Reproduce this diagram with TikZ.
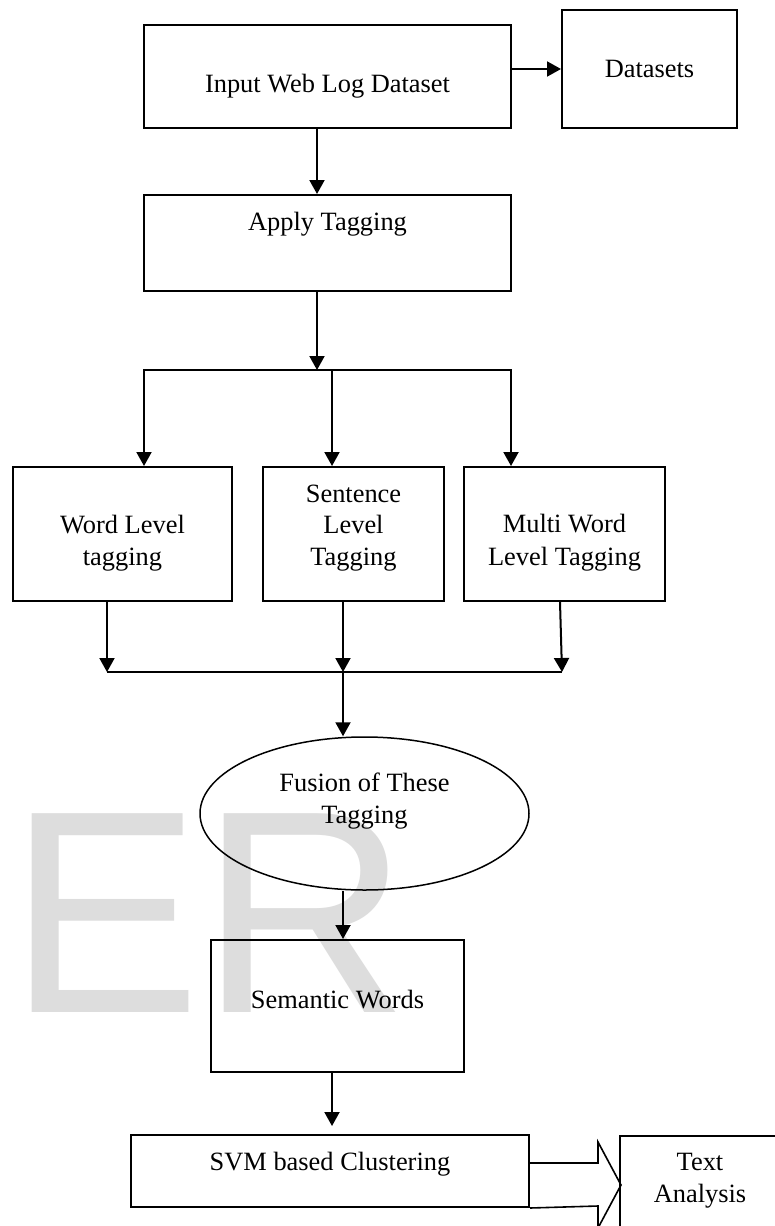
\documentclass[tikz,border=0pt]{standalone}
\usepackage{fontspec}
\setmainfont{Liberation Serif}
\newfontfamily\wmsans{Liberation Sans}
\usetikzlibrary{arrows.meta,shapes.geometric,fit}
\definecolor{wmgray}{HTML}{DDDDDD}
\tikzset{
  box/.style={draw, line width=2pt, inner sep=0pt},
  oval/.style={draw, ellipse, line width=1.5pt, inner sep=0pt},
  txt/.style={inner sep=0pt, anchor=base, font=\fontsize{26.4}{32}\selectfont},
  arr/.style={line width=2pt, -{Triangle[length=14pt,width=15pt]}},
  bar/.style={line width=1.6pt},
  barrow/.style={line width=1.6pt, line join=miter},
}
\begin{document}
\begin{tikzpicture}[x=1pt,y=-1pt]
\clip (0,0) rectangle (775,1226);
\useasboundingbox (0,0) rectangle (775,1226);
\fill[white] (0,0) rectangle (775,1226);

% watermark
\node[anchor=base west, inner sep=0pt, text=wmgray, font=\wmsans\fontsize{289}{289}\selectfont] (wm) at (8,1012) {ER};

% boxes
\node[box, fit={(144,25) (511,128)}] (in) {};
\node[box, fit={(562,10) (737,128)}] (ds) {};
\node[box, fit={(144,195) (511,291)}] (ap) {};
\node[box, fit={(13,467) (232,601)}] (wl) {};
\node[box, fit={(263,467) (444,601)}] (sl) {};
\node[box, fit={(464,467) (665,601)}] (ml) {};
\node[oval, minimum width=329pt, minimum height=153pt] (fu) at (364.5,813.5) {};
\node[box, fit={(211,940) (464,1072)}] (sw) {};
\node[box, fit={(131,1135) (529,1207)}] (svm) {};
\node[box, fit={(620,1136) (780,1260)}] (ta) {};

% texts
\node[txt] (tin) at (327.5,92) {Input Web Log Dataset};
\node[txt] (tds) at (649.5,77) {Datasets};
\node[txt] (tap) at (327.5,230) {Apply Tagging};
\node[txt] (twl1) at (122.5,533) {Word Level};
\node[txt] (twl2) at (122.5,565) {tagging};
\node[txt] (tsl1) at (353.5,502) {Sentence};
\node[txt] (tsl2) at (353.5,533) {Level};
\node[txt] (tsl3) at (353.5,565) {Tagging};
\node[txt] (tml1) at (564.5,532) {Multi Word};
\node[txt] (tml2) at (564.5,565) {Level Tagging};
\node[txt] (tfu1) at (364.5,791) {Fusion of These};
\node[txt] (tfu2) at (364.5,823) {Tagging};
\node[txt] (tsw) at (337.5,1008) {Semantic Words};
\node[txt] (tsvm) at (330,1170) {SVM based Clustering};
\node[txt] (tta1) at (700,1170) {Text};
\node[txt] (tta2) at (700,1202) {Analysis};

% helper coordinates
\coordinate (split) at (317,370);
\coordinate (b1) at (144,370);
\coordinate (b2) at (332,370);
\coordinate (b3) at (511,370);
\coordinate (c1) at (107,672);
\coordinate (c2) at (343,672);
\coordinate (c3) at (562,672);

% connectors
\draw[arr] ([xshift=-10.5pt]in.south) -- ([xshift=-10.5pt]ap.north);
\draw[arr] ([yshift=7.5pt]in.east) -- (ds.west);
\draw[arr] ([xshift=-10.5pt]ap.south) -- (split);
\draw[arr] (split) -- (b1) -- (b1 |- wl.north);
\draw[arr] (split) -- (b3) -- (b3 |- ml.north);
\draw[arr] (b2) -- (b2 |- sl.north);

\draw[arr] (c1 |- wl.south) -- (c1);
\draw[arr] (c2 |- sl.south) -- (c2);
\draw[arr] ([xshift=-4.5pt]ml.south) -- (c3);
\draw[bar] (c1) -- (c3);
\draw[arr] (c2) -- (c2 |- fu.north);

\draw[arr] (c2 |- fu.south) -- (c2 |- sw.north);
\draw[arr, shorten >=8pt] ([xshift=-5.5pt]sw.south) -- ([xshift=2pt]svm.north);

\draw[barrow] ([yshift=8pt]svm.east) -- ++(68,0) -- ++(0,-21) -- ++(23,43) -- ++(-23,43) -- ++(0,-22) -- (svm.south east);
\end{tikzpicture}
\end{document}
